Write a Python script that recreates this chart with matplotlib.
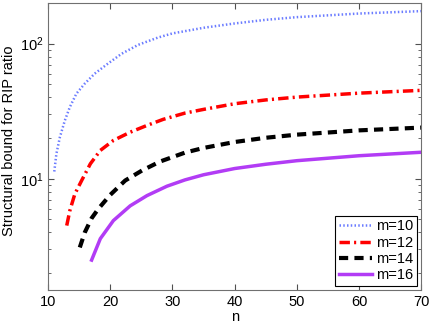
import matplotlib
matplotlib.use("Agg")
import matplotlib.pyplot as plt
from matplotlib.ticker import LogLocator, NullFormatter

plt.rcParams['font.family'] = ['Liberation Sans', 'DejaVu Sans']
plt.rcParams['mathtext.fontset'] = 'custom'
plt.rcParams['mathtext.rm'] = 'Liberation Sans'
plt.rcParams['mathtext.it'] = 'Liberation Sans'

# values
n_m10 = [11, 11.34, 11.9, 12.7, 13.5, 14.55, 15.9, 17.5, 19.6, 21.8, 24.5, 27.7, 30, 35, 40, 45, 50, 60, 70]
b_m10 = [11.3, 15.3, 20.3, 27, 33.9, 42.6, 50.6, 60, 71, 84, 98, 111, 119, 131, 141, 150, 157, 167, 174]

n_m12 = [13, 13.5, 14.3, 15.4, 16.8, 18.4, 20.5, 23.2, 25.9, 28.5, 32, 35, 40, 45, 50, 60, 70]
b_m12 = [4.5, 5.8, 7.7, 9.7, 12.9, 16.2, 19.2, 22.1, 24.8, 27.5, 30.6, 32.6, 35.9, 38.3, 40.2, 43.0, 45.1]

n_m14 = [15.1, 15.9, 17, 18.1, 20, 22.4, 25.1, 28, 32, 35, 40, 45, 50, 60, 70]
b_m14 = [3.1, 4.0, 5.1, 6.0, 7.6, 9.7, 11.5, 13.4, 15.6, 16.9, 18.7, 20.1, 21.2, 22.8, 23.9]

n_m16 = [17, 18.4, 20.5, 23.2, 25.9, 29.1, 32, 35, 40, 45, 50, 60, 70]
b_m16 = [2.5, 3.6, 4.9, 6.3, 7.5, 8.8, 9.8, 10.7, 11.9, 12.8, 13.6, 14.8, 15.7]

fig = plt.figure(figsize=(4.33, 3.27), dpi=100)
ax = fig.add_axes([0.111, 0.113, 0.862, 0.878])

ax.semilogy(n_m10, b_m10, color='#6b7cff', linestyle=(0, (0.6, 0.9)), linewidth=1.8, label='m=10')
ax.semilogy(n_m12, b_m12, color='#ff0000', linestyle=(0, (3, 1.2, 0.6, 1.2)), linewidth=2.5, label='m=12')
ax.semilogy(n_m14, b_m14, color='black', linestyle=(0, (2.2, 1.5)), linewidth=3, label='m=14')
ax.semilogy(n_m16, b_m16, color='#b23cf5', linestyle='-', linewidth=2.5, label='m=16')

ax.set_xlim(10, 70)
ax.set_ylim(1.5, 200)
ax.set_xticks([10, 20, 30, 40, 50, 60, 70])
ax.yaxis.set_major_locator(LogLocator(base=10))
ax.yaxis.set_minor_locator(LogLocator(base=10, subs=range(2, 10)))
ax.yaxis.set_minor_formatter(NullFormatter())

ax.tick_params(which='both', direction='in', top=True, right=True, labelsize=10.5, colors='#505050', labelcolor='black')
ax.tick_params(which='major', length=4)
ax.tick_params(which='minor', length=2.5)
for s in ax.spines.values():
    s.set_color('#707070')

ax.set_xlabel('n', fontsize=10.5, labelpad=1)
ax.set_ylabel('Structural bound for RIP ratio', fontsize=10.5)
ax.yaxis.set_label_coords(-0.085, 0.52)

leg = ax.legend(loc='lower right', fontsize=10.5, fancybox=False, framealpha=1,
                edgecolor='black', handlelength=2.3, handletextpad=0.25,
                borderaxespad=0.3, labelspacing=0.15, borderpad=0.25)
leg.get_frame().set_linewidth(0.8)

fig.savefig('out.png', dpi=100)
